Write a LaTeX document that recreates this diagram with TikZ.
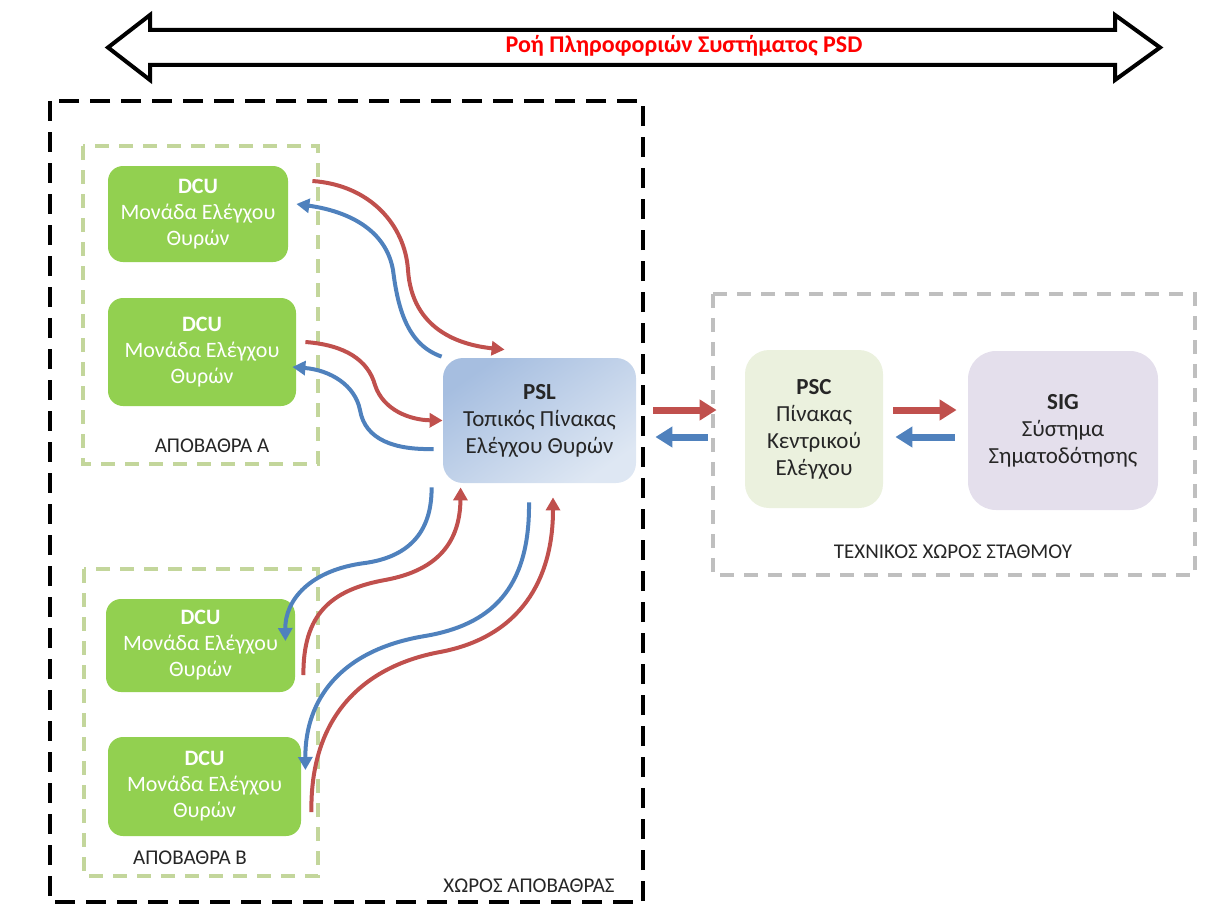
\documentclass[tikz,border=0pt]{standalone}
\usepackage{fontspec}
\setmainfont{Carlito}
\usetikzlibrary{arrows.meta,calc}

\definecolor{flowred}{HTML}{C0504D}
\definecolor{flowblue}{HTML}{4F81BD}
\definecolor{dcugreen}{HTML}{92D050}
\definecolor{zonegreen}{HTML}{C3D69B}
\definecolor{zonegray}{HTML}{BFBFBF}
\definecolor{pscfill}{HTML}{EBF1DE}
\definecolor{sigfill}{HTML}{E4DFEC}
\definecolor{pslA}{HTML}{A6BEE0}
\definecolor{pslB}{HTML}{DEE7F3}
\definecolor{titlered}{HTML}{FF0000}
\definecolor{inktext}{HTML}{262626}

\begin{document}
\begin{tikzpicture}[x=0.5pt,y=-0.5pt,
  dcu/.style={rounded corners=7.5pt, fill=dcugreen, text=white, align=center,
    inner sep=0pt, font=\fontsize{11}{13}\selectfont},
  unitbox/.style={align=center, inner sep=0pt, text=inktext,
    font=\fontsize{11.5}{13.5}\selectfont},
  lbl/.style={inner sep=0pt, text=inktext, font=\fontsize{10.5}{12}\selectfont},
  platformzone/.style={draw=zonegreen, line width=2pt, dash pattern=on 7pt off 5pt},
  stationzone/.style={draw=zonegray, line width=2pt, dash pattern=on 7pt off 5pt},
  deckzone/.style={draw=black, line width=2pt, dash pattern=on 10pt off 5.5pt},
  flow/.style={line width=2pt, -{Triangle[length=6.5pt,width=7pt]}},
  bigflow/.style={line width=3.5pt, -{Triangle[length=8.5pt,width=10pt]}}
]
\useasboundingbox (0,0) rectangle (1229,904);

% zones
\draw[deckzone] (50,101) rectangle (643,902);
\draw[platformzone] (83,146) rectangle (318,464);
\draw[platformzone] (84,569) rectangle (318,876);
\draw[stationzone] (713,294) rectangle (1195,575);

% information flow banner
\draw[line width=2pt, line join=miter]
  (108,47.5) -- (150,15) -- (150,30) -- (1115,30) -- (1115,15) -- (1160,47.5)
  -- (1115,80) -- (1115,65) -- (150,65) -- (150,80) -- cycle;
\node[font=\bfseries\fontsize{12}{14}\selectfont, text=titlered, inner sep=0pt]
  (title) at (684,46) {Ροή Πληροφοριών Συστήματος PSD};

% door control units
\node[dcu, minimum width=90pt, minimum height=48pt] (dcu1) at (198,214)
  {\textbf{DCU}\\Μονάδα Ελέγχου\\Θυρών};
\node[dcu, minimum width=94pt, minimum height=54pt] (dcu2) at (202,352)
  {\textbf{DCU}\\Μονάδα Ελέγχου\\Θυρών};
\node[dcu, minimum width=94.5pt, minimum height=46.5pt] (dcu3) at (200.5,645.5)
  {\textbf{DCU}\\Μονάδα Ελέγχου\\Θυρών};
\node[dcu, minimum width=96.5pt, minimum height=49.5pt] (dcu4) at (204.5,786.5)
  {\textbf{DCU}\\Μονάδα Ελέγχου\\Θυρών};

% local panel, central panel, signalling
\node[unitbox, rounded corners=10pt, top color=pslA, bottom color=pslB,
  shading angle=35, minimum width=96.5pt, minimum height=62.5pt]
  (psl) at (539.5,420.5) {\textbf{PSL}\\Τοπικός Πίνακας\\Ελέγχου Θυρών};
\node[unitbox, rounded corners=12pt, fill=pscfill,
  minimum width=69pt, minimum height=79pt]
  (psc) at (814,429) {\textbf{PSC}\\Πίνακας\\Κεντρικού\\Ελέγχου};
\node[unitbox, rounded corners=14pt, fill=sigfill,
  minimum width=95pt, minimum height=79.5pt]
  (sig) at (1063,430.5) {\textbf{SIG}\\Σύστημα\\Σηματοδότησης};

% zone labels
\node[lbl] (labA) at (212,446) {ΑΠΟΒΑΘΡΑ Α};
\node[lbl] (labB) at (190,858) {ΑΠΟΒΑΘΡΑ Β};
\node[lbl] (labP) at (529,886) {ΧΩΡΟΣ ΑΠΟΒΑΘΡΑΣ};
\node[lbl] (labT) at (953,552) {ΤΕΧΝΙΚΟΣ ΧΩΡΟΣ ΣΤΑΘΜΟΥ};

% platform A links
\draw[flow, flowred] ($(dcu1.east)+(24,-33)$)
  .. controls (370,185) and (405,225) .. (408,270)
  .. controls (412,330) and (460,345) .. ($(psl.north west)+(62,-8)$);
\draw[flow, flowblue] ($(psl.north west)+(-1,-1)$)
  .. controls (408,345) and (398,310) .. (393,270)
  .. controls (385,225) and (340,210) .. ($(dcu1.east)+(8,-10)$);
\draw[flow, flowred] ($(dcu2.east)+(9,-10)$)
  .. controls (345,345) and (368,360) .. (375,385)
  .. controls (383,410) and (410,420) .. (psl.west);
\draw[flow, flowblue] ($(psl.west)+(-9,28.5)$)
  .. controls (395,450) and (365,440) .. (360,410)
  .. controls (355,385) and (330,370) .. ($(dcu2.east)+(-4,15)$);

% platform B links
\draw[flow, flowblue] ($(psl.south west)+(-11,4)$)
  .. controls (432,540) and (400,558) .. (365,563)
  .. controls (310,570) and (285,600) .. ($(dcu3.east)+(-10,-4.5)$);
\draw[flow, flowred] ($(dcu3.east)+(8,29.5)$)
  .. controls (303,615) and (330,590) .. (385,580)
  .. controls (440,570) and (460,540) .. ($(psl.south west)+(18,4)$);
\draw[flow, flowblue] ($(psl.south)+(-10.5,19)$)
  .. controls (530,590) and (490,625) .. (425,636)
  .. controls (340,650) and (305,700) .. ($(dcu4.east)+(4,-16.5)$);
\draw[flow, flowred] ($(dcu4.east)+(10,25.5)$)
  .. controls (310,710) and (370,665) .. (440,652)
  .. controls (520,637) and (553,580) .. ($(psl.south)+(13.5,14)$);

% station links
\draw[bigflow, flowred] ($(psl.east)+(17,-10.5)$) -- ($(psc.west)+(-28,-19)$);
\draw[bigflow, flowblue] ($(psc.west)+(-37,8)$) -- ($(psl.east)+(19,16.5)$);
\draw[bigflow, flowred] ($(psc.east)+(10,-19)$) -- ($(sig.west)+(-11,-20.5)$);
\draw[bigflow, flowblue] ($(sig.west)+(-13,6.5)$) -- ($(psc.east)+(12,8)$);
\end{tikzpicture}
\end{document}
